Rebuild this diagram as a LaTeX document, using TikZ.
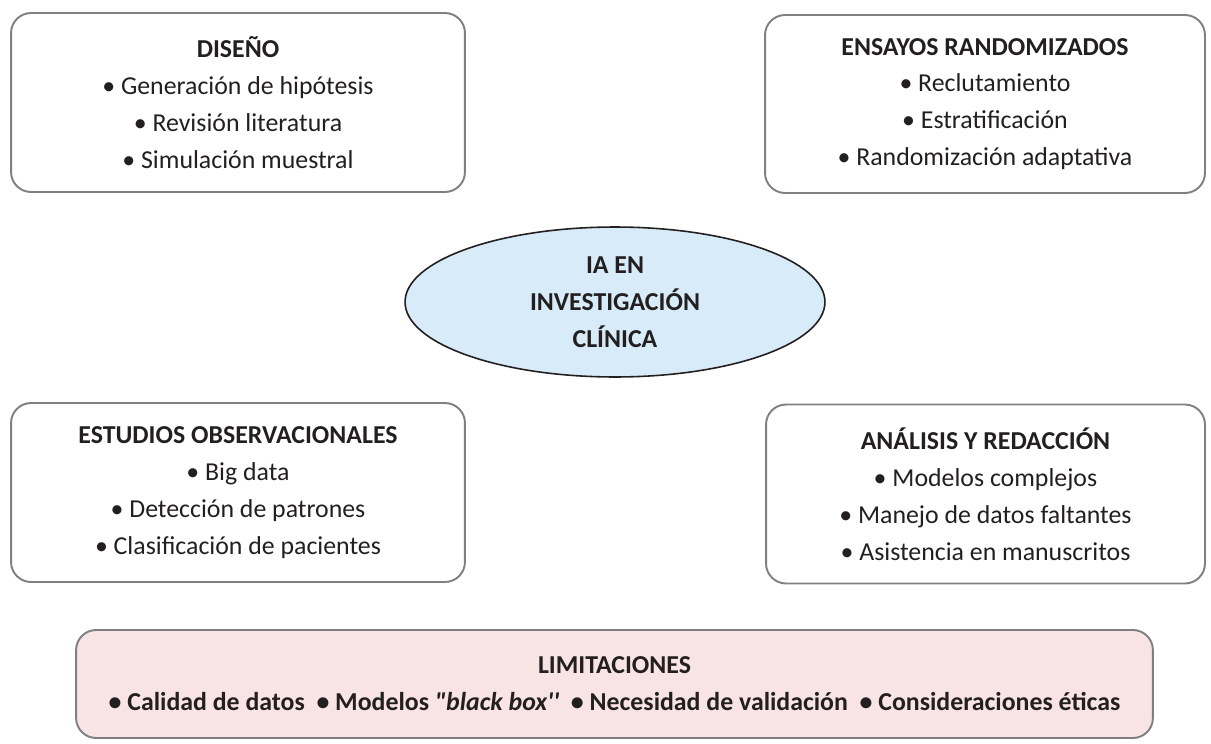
\documentclass[tikz,border=0pt]{standalone}
\usepackage{fontspec}
\setmainfont{Carlito}[Ligatures=TeXOff]
\usetikzlibrary{shapes.geometric}
\definecolor{boxgray}{HTML}{808080}
\definecolor{txtdark}{HTML}{231F20}
\definecolor{ovalblue}{HTML}{D8EBF8}
\definecolor{limitpink}{HTML}{F8E4E5}
\begin{document}
\begin{tikzpicture}[x=0.02cm, y=-0.02cm,
    panel/.style={draw=boxgray, line width=1.1pt, rounded corners=0.4cm, align=center,
        text=txtdark, inner sep=0pt, font=\fontsize{14.7}{21}\selectfont},
    centre/.style={ellipse, draw=txtdark, line width=0.9pt, fill=ovalblue, align=center,
        text=txtdark, inner sep=0pt, font=\fontsize{14.7}{21}\selectfont\bfseries}]
    \useasboundingbox (0,0) rectangle (1211,744);
    % Top row
    \node[panel, minimum width=9.08cm, minimum height=3.58cm] (diseno) at (238,102.5)
        {\textbf{DISEÑO}\\ • Generación de hipótesis\\ • Revisión literatura\\ • Simulación muestral};
    \node[panel, minimum width=8.8cm, minimum height=3.56cm] (ensayos) at (985,104)
        {\textbf{ENSAYOS RANDOMIZADOS}\\ • Reclutamiento\\ • Estratificación\\ • Randomización adaptativa};
    % Central ellipse
    \node[centre, minimum width=8.4cm, minimum height=3cm] (ia) at (615,302)
        {IA EN\\ INVESTIGACIÓN\\ CLÍNICA};
    % Bottom row
    \node[panel, minimum width=9.08cm, minimum height=3.58cm] (estudios) at (238,492.5)
        {\textbf{ESTUDIOS OBSERVACIONALES}\\ • Big data\\ • Detección de patrones\\ • Clasificación de pacientes};
    \node[panel, minimum width=8.78cm, minimum height=3.58cm] (analisis) at (985.5,494)
        {\textbf{ANÁLISIS Y REDACCIÓN}\\ • Modelos complejos\\ • Manejo de datos faltantes\\ • Asistencia en manuscritos};
    % Limitations
    \node[panel, fill=limitpink, font=\fontsize{14.7}{21}\selectfont\bfseries,
        minimum width=21.54cm, minimum height=2.16cm] (limites) at (614.5,684)
        {LIMITACIONES\\ • Calidad de datos\ \ • Modelos \textit{"black box''}\ \ • Necesidad de validación\ \ • Consideraciones éticas};
\end{tikzpicture}
\end{document}
